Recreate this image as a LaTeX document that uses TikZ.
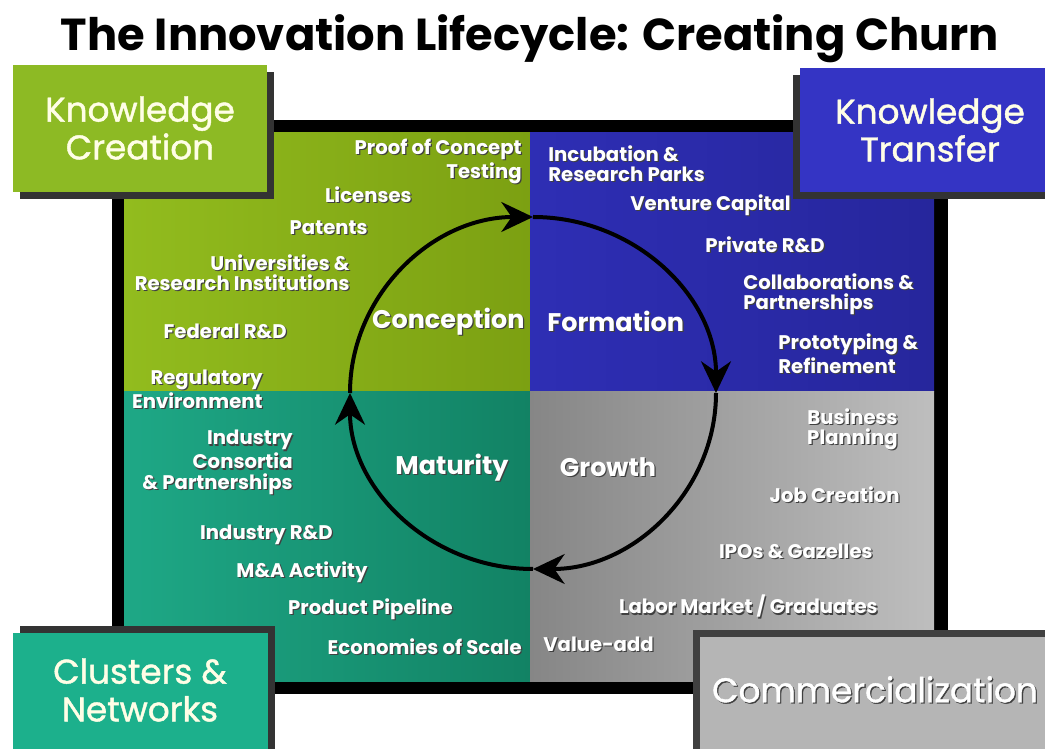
\documentclass[tikz,border=0pt]{standalone}
\usepackage{fontspec}
\setmainfont{Poppins}
\newfontfamily\boxfont{Poppins}[FakeBold=1.2]
\usetikzlibrary{arrows.meta}
\definecolor{kgreen}{RGB}{141,186,36}
\definecolor{kgreenA}{RGB}{146,188,30}
\definecolor{kgreenB}{RGB}{124,160,18}
\definecolor{kblue}{RGB}{52,52,196}
\definecolor{kblueA}{RGB}{46,46,180}
\definecolor{kblueB}{RGB}{38,38,156}
\definecolor{kteal}{RGB}{28,176,140}
\definecolor{ktealA}{RGB}{30,168,134}
\definecolor{ktealB}{RGB}{18,130,100}
\definecolor{kgray}{RGB}{181,181,181}
\definecolor{kgrayA}{RGB}{134,134,134}
\definecolor{kgrayB}{RGB}{190,190,190}
\def\shd#1{\leavevmode\rlap{\kern0.7pt\raisebox{-0.7pt}{\color{black!75}#1}}#1}
\tikzset{
	lbl/.style={text=white, font=\bfseries\fontsize{11.2}{11.5}\selectfont, inner sep=0pt},
	stage/.style={text=white, font=\bfseries\fontsize{14.5}{16}\selectfont, inner sep=0pt},
	cornerlbl/.style={text=white!90!yellow, font=\boxfont\fontsize{19.5}{21.5}\selectfont, align=center, inner sep=0pt},
	cycle/.style={line width=0.08cm, -{Stealth[length=18pt, width=17pt]}}
}

\begin{document}
\begin{tikzpicture}
		%%%%% START %%%%%
		\fill[white] (0, 0) rectangle (20.9, 14.98);
		\useasboundingbox (0, 0) rectangle (20.9, 14.98);
		
		\node[font=\bfseries\fontsize{25.5}{28}\selectfont] (title) at (10.6, 14.2) {The Innovation Lifecycle: Creating Churn};
		
		% frame and quadrants
		\draw[fill=black] (2.24, 1.12) rectangle (18.94, 12.58);
		\shade[left color=kgreenA, right color=kgreenB] (2.48, 7.14) rectangle (10.6, 12.32);
		\shade[left color=kblueA, right color=kblueB] (10.6, 7.14) rectangle (18.68, 12.32);
		\shade[left color=ktealA, right color=ktealB] (2.48, 1.36) rectangle (10.6, 7.14);
		\shade[left color=kgrayA, right color=kgrayB] (10.6, 1.36) rectangle (18.68, 7.14);
		
		% corner boxes
		\fill[black!80] (0.40, 11.0) rectangle (5.48, 13.54);
		\fill[kgreen] (0.26, 11.14) rectangle (5.34, 13.68);
		\node[cornerlbl] (create) at (2.8, 12.42) {Knowledge\\Creation};
		
		\fill[black!80] (15.86, 11.0) rectangle (20.9, 13.48);
		\fill[kblue] (16.0, 11.14) rectangle (20.9, 13.62);
		\node[cornerlbl] (transfer) at (18.6, 12.38) {Knowledge\\Transfer};
		
		\fill[black!80] (0.40, 0) rectangle (5.5, 2.46);
		\fill[kteal] (0.26, 0) rectangle (5.36, 2.32);
		\node[cornerlbl] (clusters) at (2.8, 1.18) {Clusters \&\\Networks};
		
		\fill[black!75] (13.86, 0) rectangle (20.9, 2.38);
		\fill[kgray] (14.0, 0) rectangle (20.9, 2.24);
		\node[cornerlbl, text=white] (commerce) at (17.5, 1.18) {\shd{Commercialization}};
		
		% the cycle
		\draw[cycle] (10.66, 7.12) ++(180:3.66 and 3.52) arc[start angle=180, end angle=90, x radius=3.66, y radius=3.52];
		\draw[cycle] (10.66, 7.12) ++(90:3.66 and 3.52) arc[start angle=90, end angle=0, x radius=3.66, y radius=3.52];
		\draw[cycle] (10.66, 7.12) ++(0:3.66 and 3.52) arc[start angle=0, end angle=-90, x radius=3.66, y radius=3.52];
		\draw[cycle] (10.66, 7.12) ++(-90:3.66 and 3.52) arc[start angle=-90, end angle=-180, x radius=3.66, y radius=3.52];
		
		\node[stage, anchor=east] (conception) at (10.5, 8.54) {\shd{Conception}};
		\node[stage, anchor=west] (formation) at (10.94, 8.54) {\shd{Formation}};
		\node[stage] (maturity) at (9.04, 5.62) {\shd{Maturity}};
		\node[stage] (growth) at (12.16, 5.62) {\shd{Growth}};
		
		% knowledge creation
		\node[lbl, anchor=east, align=right] (proof) at (10.44, 11.74) {\shd{Proof of Concept}\\\shd{Testing}};
		\node[lbl, anchor=east] (licenses) at (8.24, 11.08) {\shd{Licenses}};
		\node[lbl, anchor=east] (patents) at (7.36, 10.42) {\shd{Patents}};
		\node[lbl, anchor=east, align=right] (univ) at (7.0, 9.52) {\shd{Universities \&}\\\shd{Research Institutions}};
		\node[lbl, anchor=east] (federal) at (5.74, 8.34) {\shd{Federal R\&D}};
		\node[lbl, anchor=east, align=right] (regul) at (5.26, 7.18) {\shd{Regulatory}\\\shd{Environment}};
		
		% knowledge transfer
		\node[lbl, anchor=west, align=left] (incub) at (10.96, 11.7) {\shd{Incubation \&}\\\shd{Research Parks}};
		\node[lbl, anchor=west] (venture) at (12.6, 10.86) {\shd{Venture Capital}};
		\node[lbl, anchor=west] (private) at (14.1, 10.08) {\shd{Private R\&D}};
		\node[lbl, anchor=west, align=left] (collab) at (14.86, 9.08) {\shd{Collaborations \&}\\\shd{Partnerships}};
		\node[lbl, anchor=west, align=left] (proto) at (15.56, 7.9) {\shd{Prototyping \&}\\\shd{Refinement}};
		
		% clusters
		\node[lbl, anchor=east, align=right] (consort) at (5.86, 5.72) {\shd{Industry}\\\shd{Consortia}\\\shd{\& Partnerships}};
		\node[lbl, anchor=east] (industry) at (6.66, 4.28) {\shd{Industry R\&D}};
		\node[lbl, anchor=east] (merger) at (7.36, 3.52) {\shd{M\&A Activity}};
		\node[lbl, anchor=east] (pipeline) at (9.06, 2.78) {\shd{Product Pipeline}};
		\node[lbl, anchor=east] (scale) at (10.44, 2.04) {\shd{Economies of Scale}};
		
		% commercialization
		\node[lbl, anchor=east, align=right] (business) at (17.96, 6.38) {\shd{Business}\\\shd{Planning}};
		\node[lbl, anchor=east] (jobs) at (18.0, 5.08) {\shd{Job Creation}};
		\node[lbl, anchor=east] (ipos) at (17.46, 3.94) {\shd{IPOs \& Gazelles}};
		\node[lbl, anchor=east] (labor) at (17.56, 2.84) {\shd{Labor Market / Graduates}};
		\node[lbl, anchor=west] (value) at (10.86, 2.08) {\shd{Value-add}};
		
		%%%%% END %%%%%
	\end{tikzpicture}
\end{document}
